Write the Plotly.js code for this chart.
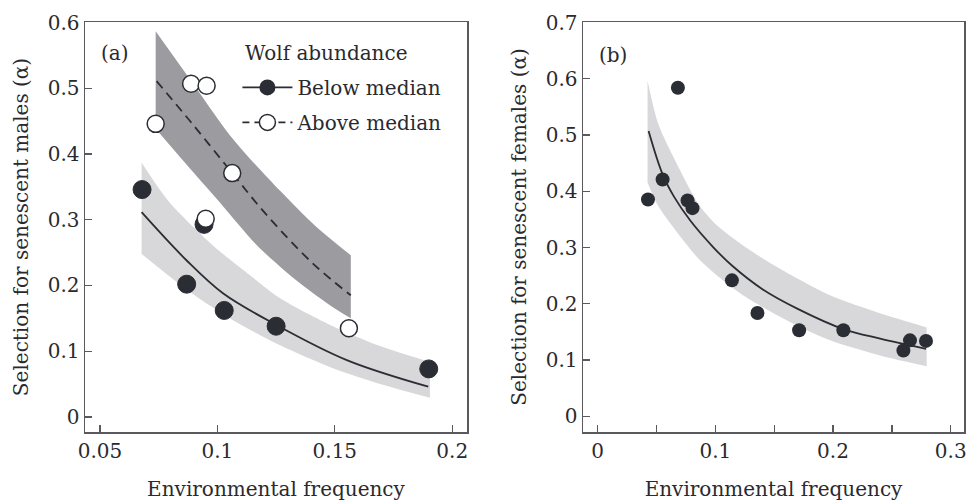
<!DOCTYPE html>
<html>
<head>
<meta charset="utf-8">
<script src="https://cdn.plot.ly/plotly-3.0.1.min.js"></script>
<style>html,body{margin:0;padding:0;background:#fff;}#chart{width:967px;height:501px;}</style>
</head>
<body>
<div id="chart"></div>
<script>
// ---- Panel (a): senescent males ----
const belowX = [0.0679, 0.0869, 0.0943, 0.1029, 0.125, 0.190];
const belowY = [0.346, 0.202, 0.293, 0.162, 0.138, 0.073];
const aboveX = [0.0737, 0.0888, 0.0954, 0.0950, 0.1063, 0.156];
const aboveY = [0.446, 0.507, 0.504, 0.3015, 0.371, 0.135];

const fitBelowX = [0.0677, 0.0869, 0.1025, 0.1253, 0.1551, 0.1898];
const fitBelowY = [0.3115, 0.238, 0.1877, 0.1396, 0.0865, 0.046];
const fitAboveX = [0.0741, 0.0900, 0.1061, 0.1203, 0.1408, 0.1568];
const fitAboveY = [0.511, 0.443, 0.372, 0.310, 0.233, 0.185];

const lightUpX = [0.0677, 0.0790, 0.0981, 0.1139, 0.1267, 0.1492, 0.1693, 0.1905];
const lightUpY = [0.387, 0.329, 0.261, 0.2155, 0.1806, 0.138, 0.1077, 0.0835];
const lightLoX = [0.0677, 0.0883, 0.1066, 0.1267, 0.1492, 0.1693, 0.1905];
const lightLoY = [0.248, 0.190, 0.147, 0.109, 0.074, 0.050, 0.029];

const darkUpX = [0.0737, 0.0883, 0.1066, 0.1267, 0.1416, 0.1568];
const darkUpY = [0.587, 0.514, 0.423, 0.344, 0.291, 0.246];
const darkLoX = [0.0737, 0.0883, 0.1004, 0.1169, 0.1330, 0.1479, 0.1568];
const darkLoY = [0.4385, 0.378, 0.329, 0.261, 0.2094, 0.170, 0.150];

// ---- Panel (b): senescent females ----
const femX = [0.0428, 0.0552, 0.0682, 0.0764, 0.0806, 0.1141, 0.1358, 0.1712, 0.2088, 0.2598, 0.2654, 0.279];
const femY = [0.3854, 0.421, 0.584, 0.3837, 0.370, 0.2416, 0.1835, 0.1528, 0.1528, 0.117, 0.135, 0.134];

const fitFemX = [0.0433, 0.0552, 0.0650, 0.0787, 0.0985, 0.1141, 0.1400, 0.1700, 0.2088, 0.2400, 0.2790];
const fitFemY = [0.507, 0.430, 0.390, 0.348, 0.300, 0.268, 0.226, 0.191, 0.155, 0.138, 0.120];

const femUpX = [0.0424, 0.0515, 0.0702, 0.0855, 0.1016, 0.1296, 0.1636, 0.1975, 0.2400, 0.2796];
const femUpY = [0.597, 0.520, 0.437, 0.378, 0.339, 0.295, 0.252, 0.215, 0.183, 0.158];
const femLoX = [0.0424, 0.0504, 0.0617, 0.0872, 0.1211, 0.1593, 0.1975, 0.2400, 0.2796];
const femLoY = [0.4156, 0.378, 0.343, 0.277, 0.2185, 0.172, 0.135, 0.108, 0.0888];

const legendNames = ['Below median', 'Above median'];
const legendTitle = 'Wolf abundance';
const xTitle = 'Environmental frequency';
const yTitleA = 'Selection for senescent males (α)';
const yTitleB = 'Selection for senescent females (α)';

// ---- styles ----
const FONT = 'DejaVu Serif, serif';
const FS = 20;
const TXT = '#2a2a2e';
const DARK = '#2b2d34';
const LIGHTBAND = '#d8d8da';
const DARKBAND = '#9c9ca0';
const AXC = '#5a5a5e';
const LW = 1.8;

function band(xlo, ylo, xup, yup, color, xa, ya) {
  return [
    {x: xlo, y: ylo, mode: 'lines', line: {width: 0, shape: 'spline', smoothing: 0.8, color: color},
     showlegend: false, hoverinfo: 'skip', xaxis: xa, yaxis: ya},
    {x: xup, y: yup, mode: 'lines', line: {width: 0, shape: 'spline', smoothing: 0.8, color: color},
     fill: 'tonexty', fillcolor: color, showlegend: false, hoverinfo: 'skip', xaxis: xa, yaxis: ya}
  ];
}

const traces = [];
traces.push(...band(lightLoX, lightLoY, lightUpX, lightUpY, LIGHTBAND, 'x', 'y'));
traces.push(...band(darkLoX, darkLoY, darkUpX, darkUpY, DARKBAND, 'x', 'y'));
traces.push({x: fitBelowX, y: fitBelowY, mode: 'lines', line: {color: DARK, width: LW, shape: 'spline'},
  showlegend: false, xaxis: 'x', yaxis: 'y'});
traces.push({x: fitAboveX, y: fitAboveY, mode: 'lines', line: {color: DARK, width: LW, dash: '9px,6px', shape: 'spline'},
  showlegend: false, xaxis: 'x', yaxis: 'y'});
traces.push({x: belowX, y: belowY, mode: 'markers', marker: {size: 18, color: DARK, line: {color: DARK, width: 1}},
  showlegend: false, xaxis: 'x', yaxis: 'y'});
traces.push({x: aboveX, y: aboveY, mode: 'markers', marker: {size: 17, color: '#ffffff', line: {color: DARK, width: 1.5}},
  showlegend: false, xaxis: 'x', yaxis: 'y'});
// legend entries
traces.push({x: [null], y: [null], mode: 'lines+markers', name: legendNames[0], legendgroup: 'g1',
  line: {color: DARK, width: LW}, marker: {size: 17, color: DARK}, xaxis: 'x', yaxis: 'y'});
traces.push({x: [null], y: [null], mode: 'lines+markers', name: legendNames[1], legendgroup: 'g2',
  line: {color: DARK, width: LW, dash: '7px,5px'}, marker: {size: 17, color: '#ffffff', line: {color: DARK, width: 1.5}},
  xaxis: 'x', yaxis: 'y'});

// panel b
traces.push(...band(femLoX, femLoY, femUpX, femUpY, LIGHTBAND, 'x2', 'y2'));
traces.push({x: fitFemX, y: fitFemY, mode: 'lines', line: {color: DARK, width: LW, shape: 'spline'},
  showlegend: false, xaxis: 'x2', yaxis: 'y2'});
traces.push({x: femX, y: femY, mode: 'markers', marker: {size: 14, color: DARK},
  showlegend: false, xaxis: 'x2', yaxis: 'y2'});

const axBase = {
  showline: true, mirror: true, linecolor: AXC, linewidth: 1.5,
  ticks: 'inside', ticklen: 7, tickwidth: 1.3, tickcolor: AXC,
  showgrid: false, zeroline: false,
  tickfont: {family: FONT, size: FS, color: TXT}
};
const tFont = {family: FONT, size: FS, color: TXT};

const layout = {
  width: 967, height: 501,
  margin: {l: 85, r: 3, t: 22, b: 69},
  paper_bgcolor: '#ffffff', plot_bgcolor: '#ffffff',
  font: {family: FONT, size: FS, color: TXT},
  xaxis: Object.assign({}, axBase, {domain: [0, 0.4346], range: [0.0436, 0.2063], dtick: 0.05, tick0: 0,
    title: {text: xTitle, font: tFont, standoff: 21}}),
  yaxis: Object.assign({}, axBase, {range: [-0.023, 0.601], dtick: 0.1, tick0: 0,
    title: {text: yTitleA, font: tFont, standoff: 13}}),
  xaxis2: Object.assign({}, axBase, {domain: [0.5666, 1], range: [-0.0124, 0.3113], dtick: 0.1, tick0: 0, anchor: 'y2',
    minor: {dtick: 0.05, ticks: 'inside', ticklen: 7, tickwidth: 1.3, tickcolor: AXC, showgrid: false},
    title: {text: xTitle, font: tFont, standoff: 21}}),
  yaxis2: Object.assign({}, axBase, {range: [-0.028, 0.701], dtick: 0.1, tick0: 0, anchor: 'x2',
    title: {text: yTitleB, font: tFont, standoff: 13}}),
  showlegend: true,
  legend: {x: 0.1734, y: 0.888, xref: 'paper', yref: 'paper', xanchor: 'left', yanchor: 'top',
    bgcolor: 'rgba(0,0,0,0)', borderwidth: 0, itemwidth: 50, tracegroupgap: 6, traceorder: 'grouped',
    font: tFont},
  annotations: [
    {text: legendTitle, xref: 'paper', yref: 'paper', x: 0.1797, y: 0.9244, showarrow: false,
     xanchor: 'left', yanchor: 'middle', font: tFont},
    {text: '(a)', xref: 'paper', yref: 'paper', x: 0.0341, y: 0.924, showarrow: false,
     xanchor: 'center', yanchor: 'middle', font: tFont},
    {text: '(b)', xref: 'paper', yref: 'paper', x: 0.6007, y: 0.92, showarrow: false,
     xanchor: 'center', yanchor: 'middle', font: tFont}
  ]
};

Plotly.newPlot('chart', traces, layout, {displayModeBar: false, staticPlot: true});
</script>
</body>
</html>
